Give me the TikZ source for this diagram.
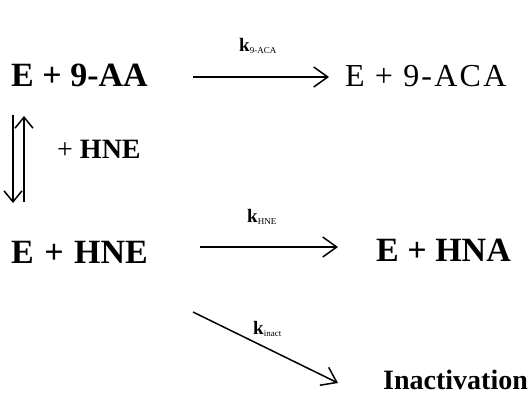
\documentclass[tikz,border=0pt]{standalone}
\usepackage{fontspec}
\setmainfont{Liberation Serif}
\usetikzlibrary{arrows.meta}
\begin{document}
\begin{tikzpicture}[x=1pt,y=-1pt,
  big/.style={anchor=base west,inner sep=0pt,font=\fontsize{34}{40}\selectfont\bfseries},
  reg/.style={anchor=base west,inner sep=0pt,font=\fontsize{32}{38}\selectfont\addfontfeatures{LetterSpace=7}},
  mid/.style={anchor=base west,inner sep=0pt,font=\fontsize{28}{34}\selectfont\bfseries},
  klab/.style={anchor=base west,inner sep=0pt,font=\fontsize{19}{21}\selectfont\bfseries},
  rxn/.style={line width=1.5pt,-{Straight Barb[length=14pt,width=20pt,line width=1.5pt]}},
  eq/.style={line width=1.5pt,-{Straight Barb[length=11pt,width=18pt,line width=1.5pt]}}]
\useasboundingbox (0,0) rectangle (529,399);
% species
\node[big] (s1) at (11,86) {E + 9-AA};
\node[reg] (p1) at (345,86) {E + 9-ACA};
\node[big] (s2) at (11,263) {E\hspace{2pt} + \hspace{2pt}HNE};
\node[big] (p2) at (376,261) {E + HNA};
\node[mid] (inh) at (57,158) {{\mdseries +} HNE};
\node[mid] (p3) at (383,389) {Inactivation};
% rate labels
\node[klab] (k1) at (239,51) {k\textsubscript{\fontsize{9}{10}\selectfont\mdseries 9-ACA}};
\node[klab] (k2) at (247,222) {k\textsubscript{\fontsize{9}{10}\selectfont\mdseries HNE}};
\node[klab] (k3) at (253,334) {k\textsubscript{\fontsize{9}{10}\selectfont\mdseries inact}};
% arrow endpoints
\coordinate (a1s) at (193,77);
\coordinate (a1e) at (329,77);
\coordinate (a2s) at (200,247);
\coordinate (a2e) at (338,247);
\coordinate (a3s) at (193,312);
\coordinate (a3e) at (338,383);
\coordinate (upS) at (24,202);
\coordinate (upE) at (24,116);
\coordinate (dnS) at (13,115);
\coordinate (dnE) at (13,203);
\draw[rxn] (a1s) -- (a1e);
\draw[rxn] (a2s) -- (a2e);
\draw[rxn] (a3s) -- (a3e);
\draw[eq] (upS) -- (upE);
\draw[eq] (dnS) -- (dnE);
\end{tikzpicture}
\end{document}
